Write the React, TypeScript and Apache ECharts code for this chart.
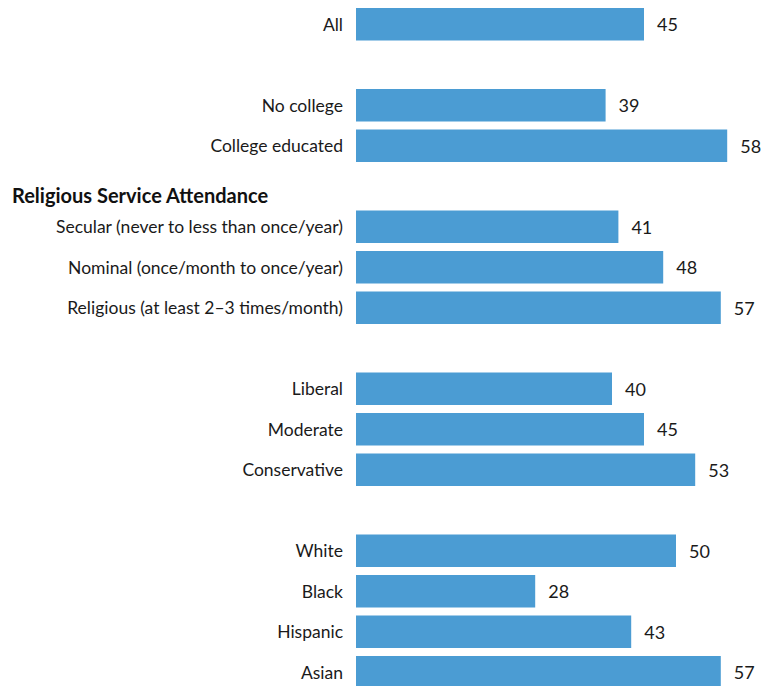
import React, { useEffect, useRef } from "react";
import * as echarts from "echarts";

const categories = [
  "All",
  "gap-1",
  "No college",
  "College educated",
  "gap-2",
  "Secular (never to less than once/year)",
  "Nominal (once/month to once/year)",
  "Religious (at least 2–3 times/month)",
  "gap-3",
  "Liberal",
  "Moderate",
  "Conservative",
  "gap-4",
  "White",
  "Black",
  "Hispanic",
  "Asian",
];

const values: (number | null)[] = [
  45, null, 39, 58, null, 41, 48, 57, null, 40, 45, 53, null, 50, 28, 43, 57,
];

const headingText = "Religious Service Attendance";

const FONT = "Lato, 'Open Sans', sans-serif";

export default function App() {
  const ref = useRef<HTMLDivElement>(null);
  useEffect(() => {
    document.body.style.margin = "0";
    const chart = echarts.init(ref.current!, undefined, { renderer: "svg" });
    chart.setOption({
      animation: false,
      backgroundColor: "#ffffff",
      grid: { left: 356, top: 4, width: 384, height: 688.5, containLabel: false },
      xAxis: {
        type: "value",
        min: 0,
        max: 60,
        show: false,
      },
      yAxis: {
        type: "category",
        inverse: true,
        data: categories,
        axisLine: { show: false },
        axisTick: { show: false },
        axisLabel: {
          margin: 13,
          fontSize: 17.5,
          fontFamily: FONT,
          color: "#1a1a1a",
          formatter: (v: string) => (v.startsWith("gap-") ? "" : v),
        },
      },
      series: [
        {
          type: "bar",
          data: values,
          barCategoryGap: "20%",
          itemStyle: { color: "#4B9CD3" },
          label: {
            show: true,
            position: "right",
            distance: 13,
            fontSize: 18,
            fontFamily: FONT,
            color: "#1a1a1a",
          },
        },
      ],
      graphic: [
        {
          type: "text",
          left: 12,
          top: 185,
          style: {
            text: headingText,
            fontSize: 20,
            fontWeight: "bold",
            fontFamily: FONT,
            fill: "#111111",
          },
        },
      ],
    });
    return () => chart.dispose();
  }, []);
  return (
    <div
      style={{
        position: "absolute",
        left: 0,
        top: 0,
        width: 768,
        height: 686,
        overflow: "hidden",
      }}
    >
      <div ref={ref} style={{ width: 768, height: 700 }} />
    </div>
  );
}
